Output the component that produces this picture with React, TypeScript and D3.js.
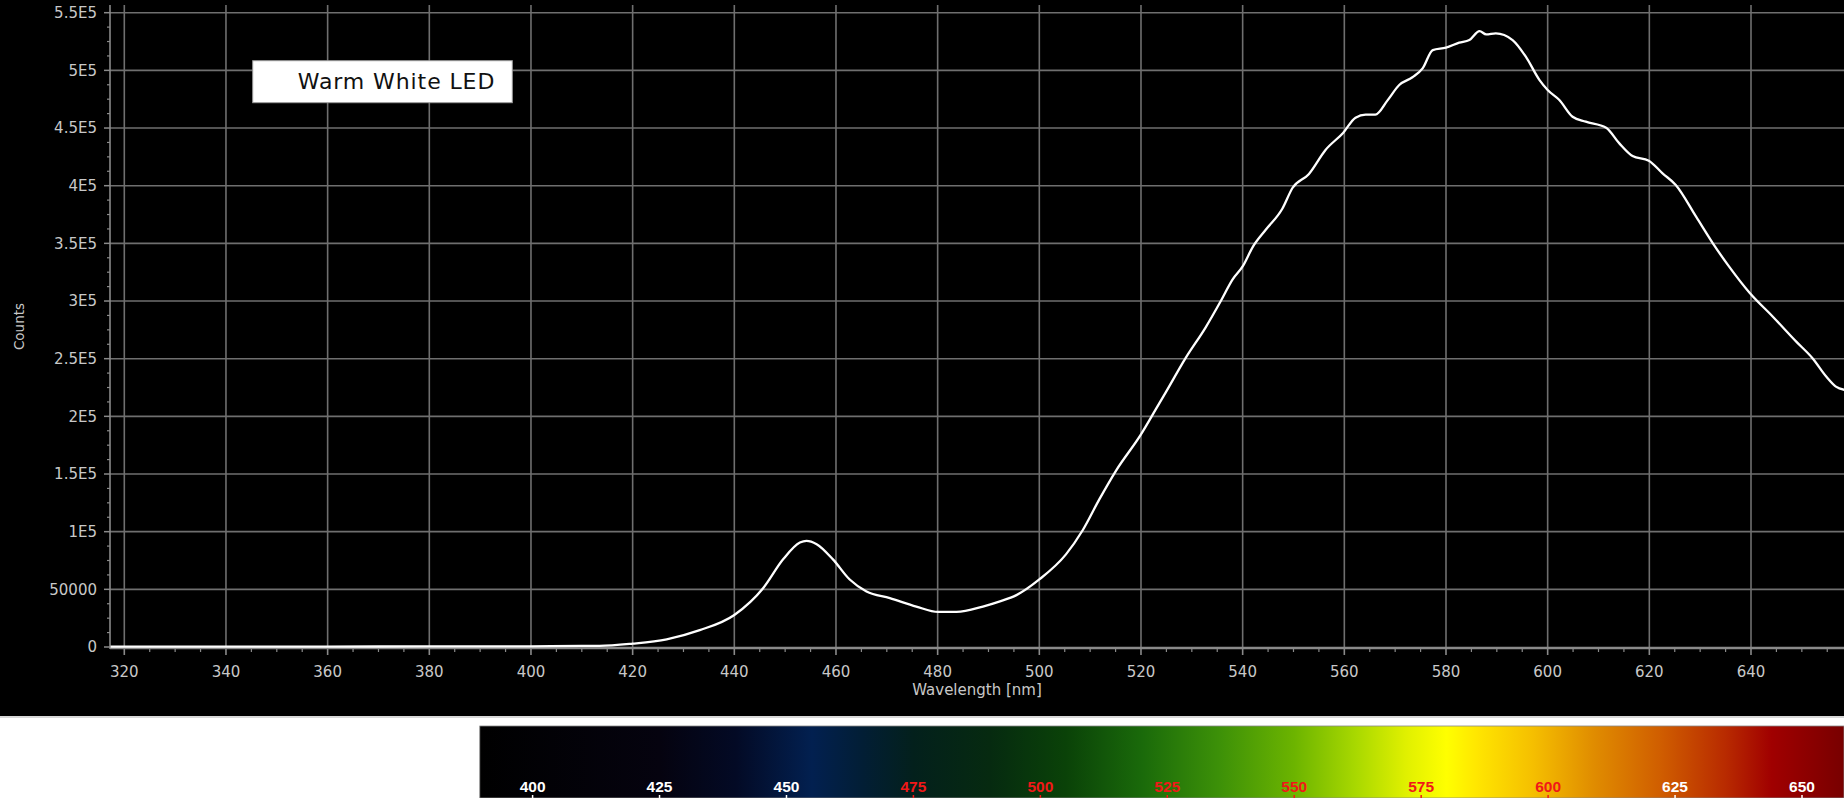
import React from "react";
import * as d3 from "d3";

// ---- data ----
const wavelengths: number[] = [
  317.3, 340, 360, 380, 400, 410, 413.5, 420, 426.7, 433.2, 440, 445.7, 449.6, 452.9, 454.2,
  456.2, 459.4, 462.7, 466, 470.6, 475.8, 480.1, 483.7, 488.9, 492.1, 495.5, 500, 505.2,
  508.5, 511.8, 515.1, 520, 522.9, 524.9, 528.8, 532.7, 535.7, 538, 540, 542, 544.5, 547.8,
  549.8, 553, 556.3, 559.8, 562.2, 564.2, 566.1, 568.5, 570.8, 573.4, 575.4, 577.4, 580,
  582.6, 584.6, 586.6, 587.9, 589.8, 593.1, 595.7, 598.4, 600, 602.3, 604.9, 607.5, 611.5,
  614.1, 616.7, 619.9, 622.6, 625.2, 629.2, 632.5, 635.7, 639.8, 644.3, 648.9, 652.1, 654.8,
  656.7, 658.4,
];
const counts: number[] = [
  400, 400, 400, 500, 600, 900, 900, 2900, 6700, 14600, 27800, 51200, 76000, 90600, 92100,
  89200, 76000, 58500, 48200, 42400, 35100, 30400, 30400, 35100, 39400, 45000, 58600, 80100,
  101000, 128000, 153000, 184400, 206000, 221000, 250700, 277000, 300000, 318600, 330000,
  347000, 361600, 380000, 398000, 410000, 431000, 446000, 459000, 461600, 461600, 474000,
  487300, 494000, 501700, 517600, 519700, 524000, 526300, 534100, 531200, 532100, 526300,
  511900, 491600, 483000, 474300, 459800, 455500, 450300, 436700, 425700, 421700, 410700,
  400600, 373100, 350000, 329800, 306700, 286400, 264800, 250400, 234500, 225800, 222900,
];

const xTicks: number[] = [320, 340, 360, 380, 400, 420, 440, 460, 480, 500, 520, 540, 560, 580, 600, 620, 640];
const yTicks: number[] = [0, 50000, 100000, 150000, 200000, 250000, 300000, 350000, 400000, 450000, 500000, 550000];
const yTickLabels: string[] = ["0", "50000", "1E5", "1.5E5", "2E5", "2.5E5", "3E5", "3.5E5", "4E5", "4.5E5", "5E5", "5.5E5"];

const legendLabel = "Warm White LED";
const xTitle = "Wavelength [nm]";
const yTitle = "Counts";

const spectrumLabels: number[] = [400, 425, 450, 475, 500, 525, 550, 575, 600, 625, 650];
const spectrumLabelColors: string[] = ["#ffffff", "#ffffff", "#ffffff", "#f01818", "#f01818", "#f01818", "#f01818", "#f01818", "#f01818", "#ffffff", "#ffffff"];
const spectrumStopsNm: number[] = [389.6, 425, 440, 455, 465, 475, 490, 505, 520, 535, 550, 562, 572, 580, 586, 597, 609, 622, 635, 644, 658.3];
const spectrumStopsColor: string[] = [
  "#000000", "#05030f", "#030a25", "#022050", "#021e35", "#03201c", "#062a10", "#0a4208",
  "#1a6a0a", "#3c9008", "#6cb400", "#a8d800", "#e0f000", "#ffff00", "#ffe600", "#f5bf00",
  "#e08c00", "#d05e00", "#b82a00", "#a00000", "#780000",
];

const W = 1844;
const H = 798;

export default function App() {
  const plotLeft = 110;
  const plotTop = 5;
  const plotBottom = 648;
  const plotRight = W;

  const x = d3.scaleLinear().domain([320, 640]).range([124.3, 1751]);
  const y = d3.scaleLinear().domain([0, 550000]).range([647, 12.7]);

  const line = d3
    .line<number>()
    .x((_, i) => x(wavelengths[i]))
    .y((d) => y(d))
    .curve(d3.curveMonotoneX);

  const xMinor = d3.range(320, 660, 5).filter((v) => v % 20 !== 0);
  const yMinor = d3.range(0, 560000, 12500).filter((v) => v % 50000 !== 0);

  const spec = d3.scaleLinear().domain([400, 650]).range([532.6, 1802]);
  const specLeft = spec(389.6);

  const font = "'DejaVu Sans', Verdana, sans-serif";
  const labelColor = "#c8c8c8";
  const gridColor = "#6f6f6f";

  return (
    <svg
      width={W}
      height={H}
      style={{ position: "absolute", left: 0, top: 0, display: "block" }}
      xmlns="http://www.w3.org/2000/svg"
    >
      <defs>
        <clipPath id="plotClip">
          <rect x={plotLeft} y={plotTop} width={plotRight - plotLeft} height={plotBottom - plotTop + 2} />
        </clipPath>
        <linearGradient id="specGrad" gradientUnits="userSpaceOnUse" x1={specLeft} x2={W} y1={0} y2={0}>
          {spectrumStopsNm.map((nm, i) => (
            <stop key={i} offset={(spec(nm) - specLeft) / (W - specLeft)} stopColor={spectrumStopsColor[i]} />
          ))}
        </linearGradient>
      </defs>

      <rect x={0} y={0} width={W} height={H} fill="#ffffff" />
      <rect x={0} y={0} width={W} height={716} fill="#000000" />
      <rect x={0} y={716} width={W} height={2} fill="#d8d8d8" />

      {/* grid */}
      {xTicks.map((t) => (
        <line key={"gx" + t} x1={x(t)} x2={x(t)} y1={plotTop} y2={plotBottom} stroke={gridColor} strokeWidth={1.6} />
      ))}
      {yTicks.filter((t) => t > 0).map((t) => (
        <line key={"gy" + t} x1={plotLeft} x2={plotRight} y1={y(t)} y2={y(t)} stroke={gridColor} strokeWidth={1.6} />
      ))}

      {/* axes */}
      <line x1={plotLeft} x2={plotLeft} y1={plotTop} y2={plotBottom + 1} stroke="#8a8a8a" strokeWidth={1.6} />
      <line x1={plotLeft} x2={plotRight} y1={plotBottom} y2={plotBottom} stroke="#8a8a8a" strokeWidth={2.5} />
      {yTicks.map((t) => (
        <line key={"ty" + t} x1={plotLeft - 6} x2={plotLeft} y1={y(t)} y2={y(t)} stroke="#8a8a8a" strokeWidth={1.5} />
      ))}
      {yMinor.map((t) => (
        <line key={"tym" + t} x1={plotLeft - 3} x2={plotLeft} y1={y(t)} y2={y(t)} stroke="#8a8a8a" strokeWidth={1.2} />
      ))}
      {xTicks.map((t) => (
        <line key={"tx" + t} x1={x(t)} x2={x(t)} y1={plotBottom} y2={plotBottom + 7} stroke="#8a8a8a" strokeWidth={1.6} />
      ))}
      {xMinor.map((t) => (
        <line key={"txm" + t} x1={x(t)} x2={x(t)} y1={plotBottom} y2={plotBottom + 4} stroke="#8a8a8a" strokeWidth={1.2} />
      ))}

      {/* tick labels */}
      {yTicks.map((t, i) => (
        <text key={"ly" + t} x={97} y={y(t)} dy="0.36em" textAnchor="end" fill={labelColor} fontFamily={font} fontSize={15}>
          {yTickLabels[i]}
        </text>
      ))}
      {xTicks.map((t) => (
        <text key={"lx" + t} x={x(t)} y={677} textAnchor="middle" fill={labelColor} fontFamily={font} fontSize={15}>
          {t}
        </text>
      ))}
      <text x={(plotLeft + plotRight) / 2} y={695} textAnchor="middle" fill={labelColor} fontFamily={font} fontSize={15}>
        {xTitle}
      </text>
      <text
        transform={`translate(24, ${(plotTop + plotBottom) / 2}) rotate(-90)`}
        textAnchor="middle"
        fill={labelColor}
        fontFamily={font}
        fontSize={13.5}
      >
        {yTitle}
      </text>

      {/* curve */}
      <g clipPath="url(#plotClip)">
        <path d={line(counts) || ""} fill="none" stroke="#ffffff" strokeWidth={2.3} strokeLinejoin="round" />
      </g>

      {/* legend */}
      <rect x={252.7} y={60.7} width={259.6} height={42} fill="#ffffff" stroke="#9a9a9a" strokeWidth={1} />
      <text x={297.7} y={88.5} fill="#111111" fontFamily={font} fontSize={22} letterSpacing={0.9}>
        {legendLabel}
      </text>

      {/* spectrum bar */}
      <rect x={specLeft} y={726} width={W - specLeft} height={H - 726} fill="url(#specGrad)" />
      <rect x={specLeft} y={726} width={W - specLeft} height={H - 726} fill="none" stroke="#888888" strokeWidth={0.8} />
      {spectrumLabels.map((nm, i) => (
        <g key={"sl" + nm}>
          <text
            x={spec(nm)}
            y={791.5}
            textAnchor="middle"
            fill={spectrumLabelColors[i]}
            fontFamily="'Liberation Sans Narrow', 'Liberation Sans', Arial, sans-serif"
            fontWeight="bold"
            fontSize={15.5}
          >
            {nm}
          </text>
          <line x1={spec(nm)} x2={spec(nm)} y1={795} y2={798} stroke={spectrumLabelColors[i]} strokeWidth={1.5} />
        </g>
      ))}
    </svg>
  );
}
